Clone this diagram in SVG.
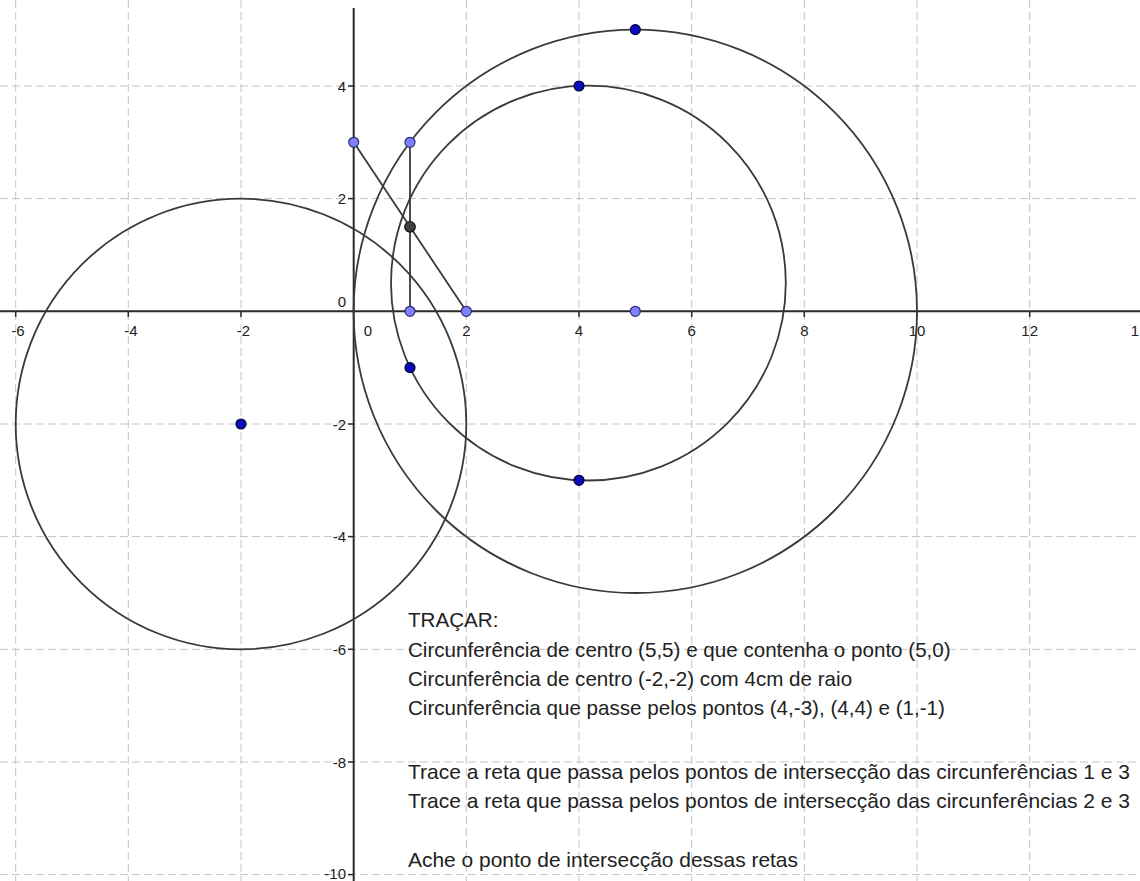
<svg xmlns="http://www.w3.org/2000/svg" width="1140" height="881" viewBox="0 0 1140 881">
<style>
.grid{stroke:#c4c4c4;stroke-width:1;stroke-dasharray:8 4;fill:none}
.axis{stroke:#2a2a2a;stroke-width:2;fill:none}
.tick{stroke:#2a2a2a;stroke-width:1.5}
.curve{stroke:#3a3a3a;stroke-width:1.8;fill:none}
.seg{stroke:#3a3a3a;stroke-width:1.8}
.lbl{font-family:"Liberation Sans",Arial,sans-serif;font-size:15px;fill:#222}
.xl{text-anchor:middle}
.yl{text-anchor:end}
.txt{font-family:"Liberation Sans",Arial,sans-serif;font-size:20.6px;fill:#222}
.pl{fill:#7f7fff;stroke:#2c2c6e;stroke-width:1.2}
.pb{fill:#0a0ac0;stroke:#00002a;stroke-width:1.2}
.pd{fill:#404040;stroke:#111;stroke-width:1.2}
</style>
<rect width="1140" height="881" fill="#ffffff"/>
<g id="grid">
<line class="grid" x1="15.7" y1="0" x2="15.7" y2="881"/>
<line class="grid" x1="128.3" y1="0" x2="128.3" y2="881"/>
<line class="grid" x1="241" y1="0" x2="241" y2="881"/>
<line class="grid" x1="466.3" y1="0" x2="466.3" y2="881"/>
<line class="grid" x1="579" y1="0" x2="579" y2="881"/>
<line class="grid" x1="691.7" y1="0" x2="691.7" y2="881"/>
<line class="grid" x1="804.3" y1="0" x2="804.3" y2="881"/>
<line class="grid" x1="917" y1="0" x2="917" y2="881"/>
<line class="grid" x1="1029.7" y1="0" x2="1029.7" y2="881"/>
<line class="grid" x1="0" y1="86" x2="1140" y2="86"/>
<line class="grid" x1="0" y1="198.6" x2="1140" y2="198.6"/>
<line class="grid" x1="0" y1="424" x2="1140" y2="424"/>
<line class="grid" x1="0" y1="536.6" x2="1140" y2="536.6"/>
<line class="grid" x1="0" y1="649.3" x2="1140" y2="649.3"/>
<line class="grid" x1="0" y1="762" x2="1140" y2="762"/>
<line class="grid" x1="0" y1="874.6" x2="1140" y2="874.6"/>
</g>
<g id="axes">
<line class="axis" x1="0" y1="311.3" x2="1140" y2="311.3"/>
<line class="axis" x1="353.7" y1="8" x2="353.7" y2="881"/>
<g class="tick">
<line x1="15.7" y1="311" x2="15.7" y2="317"/>
<line x1="128.3" y1="311" x2="128.3" y2="317"/>
<line x1="241" y1="311" x2="241" y2="317"/>
<line x1="466.3" y1="311" x2="466.3" y2="317"/>
<line x1="579" y1="311" x2="579" y2="317"/>
<line x1="691.7" y1="311" x2="691.7" y2="317"/>
<line x1="804.3" y1="311" x2="804.3" y2="317"/>
<line x1="917" y1="311" x2="917" y2="317"/>
<line x1="1029.7" y1="311" x2="1029.7" y2="317"/>
<line x1="348" y1="86" x2="354" y2="86"/>
<line x1="348" y1="198.6" x2="354" y2="198.6"/>
<line x1="348" y1="424" x2="354" y2="424"/>
<line x1="348" y1="536.6" x2="354" y2="536.6"/>
<line x1="348" y1="649.3" x2="354" y2="649.3"/>
<line x1="348" y1="762" x2="354" y2="762"/>
<line x1="348" y1="874.6" x2="354" y2="874.6"/>
</g>
<g class="lbl xl">
<text x="18" y="336">-6</text>
<text x="131" y="336">-4</text>
<text x="243.5" y="336">-2</text>
<text x="368" y="336">0</text>
<text x="466.3" y="336">2</text>
<text x="579" y="336">4</text>
<text x="691.7" y="336">6</text>
<text x="804.3" y="336">8</text>
<text x="917" y="336">10</text>
<text x="1029.7" y="336">12</text>
<text x="1139" y="336" text-anchor="end">1</text>
</g>
<g class="lbl yl">
<text x="346" y="91.5">4</text>
<text x="346" y="204">2</text>
<text x="346" y="307">0</text>
<text x="346" y="429.5">-2</text>
<text x="346" y="542">-4</text>
<text x="346" y="655">-6</text>
<text x="346" y="767.5">-8</text>
<text x="346" y="879">-10</text>
</g>
</g>
<g id="connectors">
<circle id="c1" class="curve" cx="635.3" cy="311.3" r="281.7"/>
<circle id="c2" class="curve" cx="241" cy="424" r="225.3"/>
<circle id="c3" class="curve" cx="588.4" cy="283.1" r="197.4"/>
<line class="seg" x1="353.7" y1="142.3" x2="466.3" y2="311.3"/>
<line class="seg" x1="410" y1="142.3" x2="410" y2="311.3"/>
</g>
<g id="p03"><circle class="pl" cx="353.7" cy="142.3" r="5"/></g>
<g id="p13"><circle class="pl" cx="410" cy="142.3" r="5"/></g>
<g id="p10"><circle class="pl" cx="410" cy="311.3" r="5"/></g>
<g id="p20"><circle class="pl" cx="466.3" cy="311.3" r="5"/></g>
<g id="p50"><circle class="pl" cx="635.3" cy="311.3" r="5"/></g>
<g id="pI"><circle class="pd" cx="410" cy="226.8" r="5.3"/></g>
<g id="p55"><circle class="pb" cx="635.3" cy="29.6" r="5"/></g>
<g id="p44"><circle class="pb" cx="579" cy="86" r="5"/></g>
<g id="p1m1"><circle class="pb" cx="410" cy="367.6" r="5"/></g>
<g id="p4m3"><circle class="pb" cx="579" cy="480.3" r="5"/></g>
<g id="pm2m2"><circle class="pb" cx="241" cy="424" r="5"/></g>
<g id="text" class="txt">
<text x="408" y="627">TRAÇAR:</text>
<text x="408" y="656.5">Circunferência de centro (5,5) e que contenha o ponto (5,0)</text>
<text x="408" y="686">Circunferência de centro (-2,-2) com 4cm de raio</text>
<text x="408" y="715">Circunferência que passe pelos pontos (4,-3), (4,4) e (1,-1)</text>
<text x="408" y="779" textLength="722" lengthAdjust="spacingAndGlyphs">Trace a reta que passa pelos pontos de intersecção das circunferências 1 e 3</text>
<text x="408" y="808" textLength="722" lengthAdjust="spacingAndGlyphs">Trace a reta que passa pelos pontos de intersecção das circunferências 2 e 3</text>
<text x="408" y="867" textLength="390" lengthAdjust="spacingAndGlyphs">Ache o ponto de intersecção dessas retas</text>
</g>
</svg>
